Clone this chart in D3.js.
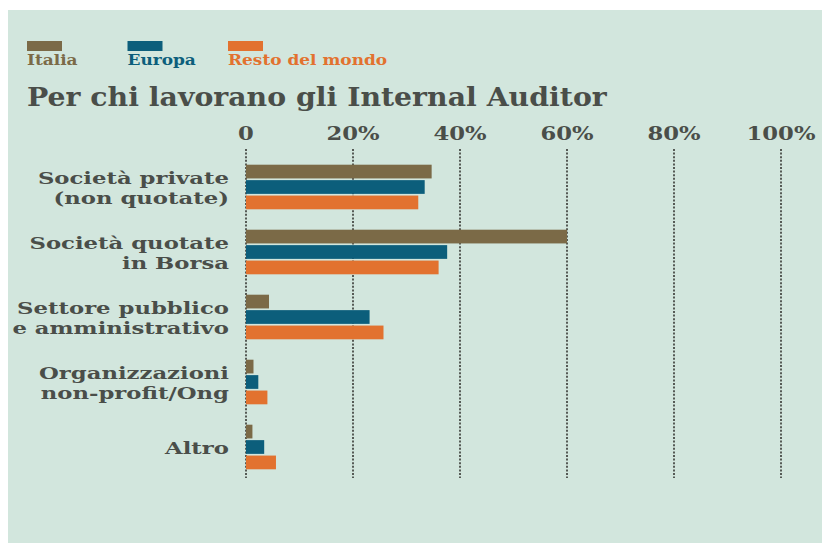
<!DOCTYPE html>
<html>
<head>
<meta charset="utf-8">
<script src="https://cdn.jsdelivr.net/npm/d3@7"></script>
<style>
body{margin:0;background:#fff;}
text{font-family:"DejaVu Serif",serif;font-weight:bold;}
</style>
</head>
<body>
<div class="chart"></div>
<script>
// categorie (righe) e serie
var categories=[
	["Società private","(non quotate)"],
	["Società quotate","in Borsa"],
	["Settore pubblico","e amministrativo"],
	["Organizzazioni","non-profit/Ong"],
	["Altro"]
];
var series=["Italia","Europa","Resto del mondo"];
var italia=[34.7,60,4.3,1.4,1.2];
var europa=[33.4,37.6,23.1,2.3,3.4];
var resto=[32.2,36,25.7,4,5.6];
var ticks=[0,20,40,60,80,100];

var width=822,height=543;
var svg=d3.select('div.chart')
		.append('svg')
		.attr('width',width)
		.attr('height',height);

// sfondo verde chiaro
svg.append('rect')
	.attr('x',8).attr('y',10)
	.attr('width',width-8).attr('height',height-10)
	.attr('fill','#d2e6dd');

var color=d3.scaleOrdinal()
	.domain(series)
	.range(['#7b6a47','#0c5e7b','#e2722f']);
var textColor='#4a4e49';

var x=d3.scaleLinear().domain([0,100]).range([246,781]);
var y=d3.scaleBand()
	.domain(d3.range(categories.length))
	.range([160,485]);
var ySub=d3.scaleBand().domain(series).range([3,51]).padding(0.11);

// il font originale e' piu' largo: allargo in orizzontale
function wide(sel,sx,sy,s){
	return sel.append('g')
		.attr('transform','translate('+sx+','+sy+') scale('+s+',1)')
		.append('text');
}

// legenda
var leg=svg.selectAll('g.leg')
	.data(series)
	.enter()
	.append('g')
	.attr('class','leg')
	.attr('transform',function(d,i){return 'translate('+[27,127.5,228][i]+',0)';});
leg.append('rect')
	.attr('y',41).attr('width',35).attr('height',10)
	.attr('fill',function(d){return color(d);});
leg.each(function(d){
	wide(d3.select(this),0,65,1.17)
		.attr('fill',color(d))
		.style('font-size','14.5px')
		.text(d);
});

// titolo
wide(svg,27,106,1.09)
	.attr('fill',textColor)
	.style('font-size','26px')
	.text('Per chi lavorano gli Internal Auditor');

// griglia tratteggiata e etichette asse
svg.selectAll('line.grid')
	.data(ticks)
	.enter()
	.append('line')
	.attr('class','grid')
	.attr('x1',function(d){return x(d);})
	.attr('x2',function(d){return x(d);})
	.attr('y1',149).attr('y2',478)
	.attr('stroke','#555a55')
	.attr('stroke-width',2)
	.attr('stroke-dasharray','2,1.6');
ticks.forEach(function(t){
	wide(svg,x(t),140,1.26)
		.attr('text-anchor','middle')
		.attr('fill',textColor)
		.style('font-size','18px')
		.text(t==0?'0':t+'%');
});

// barre
var rows=categories.map(function(c,i){
	return {i:i,values:[italia[i],europa[i],resto[i]]};
});
var groups=svg.selectAll('g.row')
	.data(rows)
	.enter()
	.append('g')
	.attr('class','row')
	.attr('transform',function(d){return 'translate(0,'+y(d.i)+')';});
groups.selectAll('rect')
	.data(function(d){return d.values.map(function(v,j){return {s:series[j],v:v};});})
	.enter()
	.append('rect')
	.attr('x',x(0))
	.attr('y',function(d){return ySub(d.s);})
	.attr('width',function(d){return x(d.v)-x(0);})
	.attr('height',ySub.bandwidth())
	.attr('fill',function(d){return color(d.s);});

// etichette categorie
groups.each(function(d){
	var lines=categories[d.i];
	var t=wide(d3.select(this),229,0,1.3)
		.attr('text-anchor','end')
		.attr('fill',textColor)
		.style('font-size','17.5px');
	var start=24-(lines.length-1)*10+10;
	lines.forEach(function(l,k){
		t.append('tspan')
			.attr('x',0)
			.attr('y',start+k*20)
			.text(l);
	});
});
</script>
</body>
</html>
